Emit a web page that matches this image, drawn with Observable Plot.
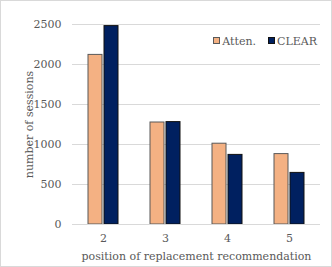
<!DOCTYPE html>
<html>
<head>
<meta charset="utf-8">
<script src="https://cdn.jsdelivr.net/npm/d3@7"></script>
<script src="https://cdn.jsdelivr.net/npm/@observablehq/plot@0.6"></script>
<style>
  html, body { margin: 0; padding: 0; background: #fff; }
  #wrap { position: relative; width: 332px; height: 267px; }
  #frame { position: absolute; left: 0; top: 0; width: 330px; height: 265px; border: 1px solid #d9d9d9; pointer-events: none; }
  #legend { position: absolute; top: 35px; right: 15px; font: 11px "DejaVu Serif", serif; color: #595959; display: flex; gap: 12px; align-items: center; }
  #legend span.sw { display: inline-block; width: 5px; height: 5px; border: 0.8px solid #404040; margin-right: 2px; vertical-align: 1px; }
</style>
</head>
<body>
<div id="wrap">
  <div id="chart"></div>
  <div id="legend"></div>
  <div id="frame"></div>
</div>
<script>
const positions = ["2", "3", "4", "5"];
const series = ["Atten.", "CLEAR"];
const attenValues = [2120, 1275, 1010, 880];
const clearValues = [2480, 1280, 870, 645];
const colors = ["#F4B183", "#002060"];
const strokes = ["#595959", "#111111"];
const yTicks = [0, 500, 1000, 1500, 2000, 2500];

const data = [];
positions.forEach((p, i) => {
  data.push({position: p, series: series[0], value: attenValues[i]});
  data.push({position: p, series: series[1], value: clearValues[i]});
});

const font = '"DejaVu Serif", serif';
const plot = Plot.plot({
  width: 332,
  height: 267,
  marginLeft: 71,
  marginRight: 11,
  marginTop: 24,
  marginBottom: 43,
  style: {fontFamily: font, fontSize: "11px", color: "#595959", background: "transparent"},
  fx: {domain: positions, padding: 0},
  x: {domain: series, paddingInner: 0.15, paddingOuter: 0.91, axis: null},
  y: {domain: [0, 2500]},
  color: {domain: series, range: colors},
  marks: [
    Plot.gridY(yTicks, {stroke: "#d9d9d9", strokeOpacity: 1}),
    Plot.axisY({ticks: yTicks, tickFormat: "d", tickSize: 0, tickPadding: 11, label: "number of sessions", labelAnchor: "center", labelArrow: "none", labelOffset: 47, fill: "#595959"}),
    Plot.axisFx({anchor: "bottom", tickSize: 0, tickPadding: 10, label: "position of replacement recommendation", labelAnchor: "center", labelArrow: "none", labelOffset: 35, fill: "#595959"}),
    Plot.barY(data, {fx: "position", x: "series", y: "value", fill: "series", stroke: d => strokes[series.indexOf(d.series)], strokeWidth: 1}),
    Plot.ruleY([0], {stroke: "#d9d9d9"})
  ]
});
document.getElementById("chart").appendChild(plot);

const legend = document.getElementById("legend");
series.forEach((s, i) => {
  const item = document.createElement("span");
  item.innerHTML = `<span class="sw" style="background:${colors[i]};border-color:${strokes[i]}"></span>${s}`;
  legend.appendChild(item);
});
</script>
</body>
</html>
